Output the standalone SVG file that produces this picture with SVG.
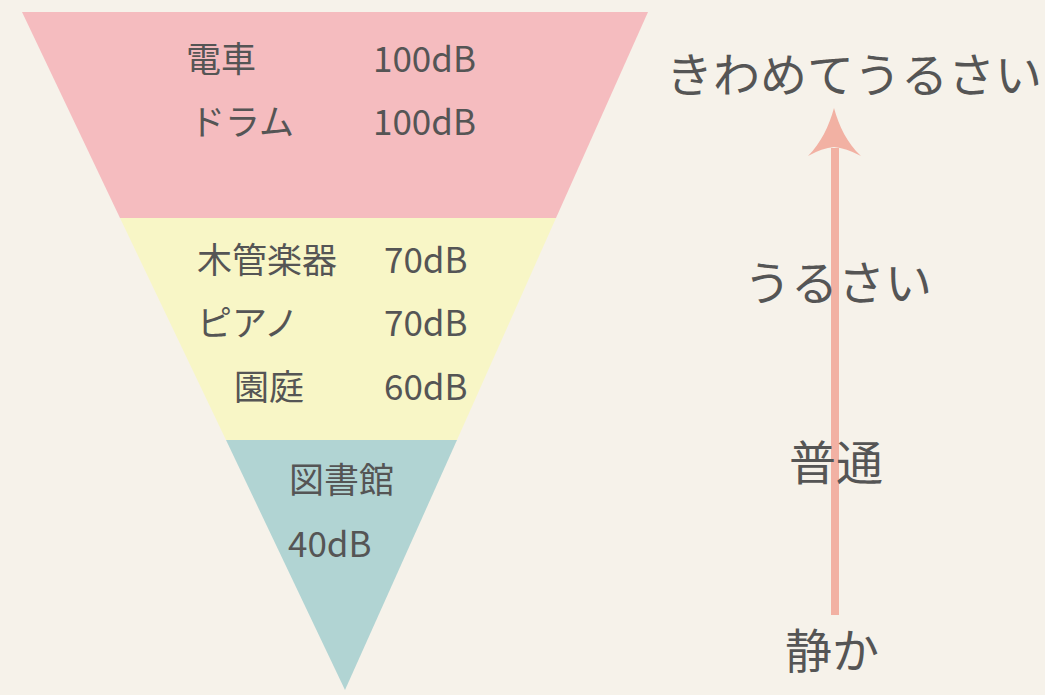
<svg xmlns="http://www.w3.org/2000/svg" width="1045" height="695" viewBox="0 0 1045 695">
<style>
text{font-family:"Noto Sans CJK JP","Noto Sans",sans-serif;fill:#555555}
.s{font-size:35px}
.l{font-size:47px}
.conn{stroke:#f2b1a3;stroke-width:8;fill:none}
.head{fill:#f2b1a3}
</style>
<rect width="1045" height="695" fill="#f6f2ea"/>
<g id="band-top">
<polygon points="22,12 648,12 556,218 120,218" fill="#f5bcbf"/>
<text class="s" x="186" y="72">電車</text>
<text class="s" x="373" y="72">100dB</text>
<text class="s" x="190" y="135">ドラム</text>
<text class="s" x="373" y="135">100dB</text>
</g>
<g id="band-mid">
<polygon points="120,218 556,218 457,440 226,440" fill="#f8f6c6"/>
<text class="s" x="197" y="273">木管楽器</text>
<text class="s" x="384" y="273">70dB</text>
<text class="s" x="197" y="336">ピアノ</text>
<text class="s" x="384" y="336">70dB</text>
<text class="s" x="234" y="400">園庭</text>
<text class="s" x="384" y="400">60dB</text>
</g>
<g id="band-bottom">
<polygon points="226,440 457,440 345,690" fill="#b1d4d3"/>
<text class="s" x="289" y="493">図書館</text>
<text class="s" x="288" y="557">40dB</text>
</g>
<g id="connectors">
<line class="conn" x1="835" y1="615" x2="835" y2="148"/>
<path class="head" d="M834,108 C839,126 847,143 861,156 Q846,148 834,147 Q822,148 808,156 C821,143 829,126 834,108 Z"/>
</g>
<g id="scale-labels">
<text class="l" x="666" y="92">きわめてうるさい</text>
<text class="l" x="744" y="300">うるさい</text>
<text class="l" x="789" y="480">普通</text>
<text class="l" x="785" y="668">静か</text>
</g>
</svg>
